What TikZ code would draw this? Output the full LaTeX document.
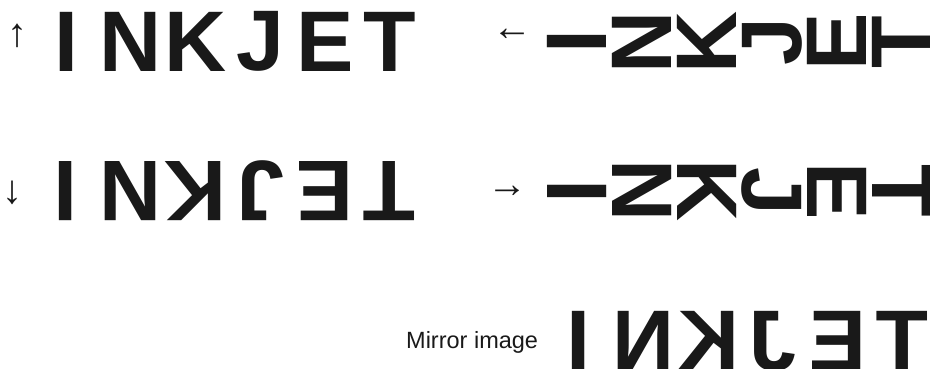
\documentclass[tikz,border=0pt]{standalone}
\usepackage{fontspec}
\setmainfont{Liberation Sans}
\usetikzlibrary{positioning}

\begin{document}
\begin{tikzpicture}[
    x=1pt, y=-1pt,
    glyph/.style={font=\fontsize{86}{86}\selectfont\bfseries, inner sep=0pt, text=black!90},
    pointer/.style={font=\fontsize{40}{40}\selectfont\bfseries, inner sep=0pt, text=black!90},
    lbl/.style={font=\fontsize{23.5}{24}\selectfont, inner sep=0pt, text=black!90},
]
\path[use as bounding box, clip] (0,0) rectangle (930,369);

% ---------- upright ----------
\node[pointer] (pu) at (17.5,36) {↑};
\foreach \l [count=\i] in {I,N,K,J,E,T}
  \node[glyph] (up\i) at ({66+64.7*(\i-1)},41.5) {\l};

% ---------- quarter turn, top to the left ----------
\node[pointer] (pl) at (512,35) {←};
\foreach \l [count=\i] in {I,N,K,J,E,T}
  \node[glyph, rotate=90] (ccw\i) at ({577+65*(\i-1)},42) {\l};

% ---------- half turn ----------
\node[pointer] (pd) at (12,192.5) {↓};
\foreach \l [count=\i] in {I,N,K,J,E,T}
  \node[glyph, rotate=180] (half\i) at ({66+64.7*(\i-1)},191) {\l};

% ---------- quarter turn, top to the right ----------
\node[pointer] (pr) at (507,192) {→};
\foreach \l [count=\i] in {I,N,K,J,E,T}
  \node[glyph, rotate=-90] (cw\i) at ({577+65*(\i-1)},191) {\l};

% ---------- mirror ----------
\node[lbl, anchor=base west] (mirlbl) at (406,348) {Mirror image};
\foreach \l [count=\i] in {I,N,K,J,E,T}
  \node[glyph, xscale=-1] (mir\i) at ({579+64.6*(\i-1)},341) {\l};

\end{tikzpicture}
\end{document}
